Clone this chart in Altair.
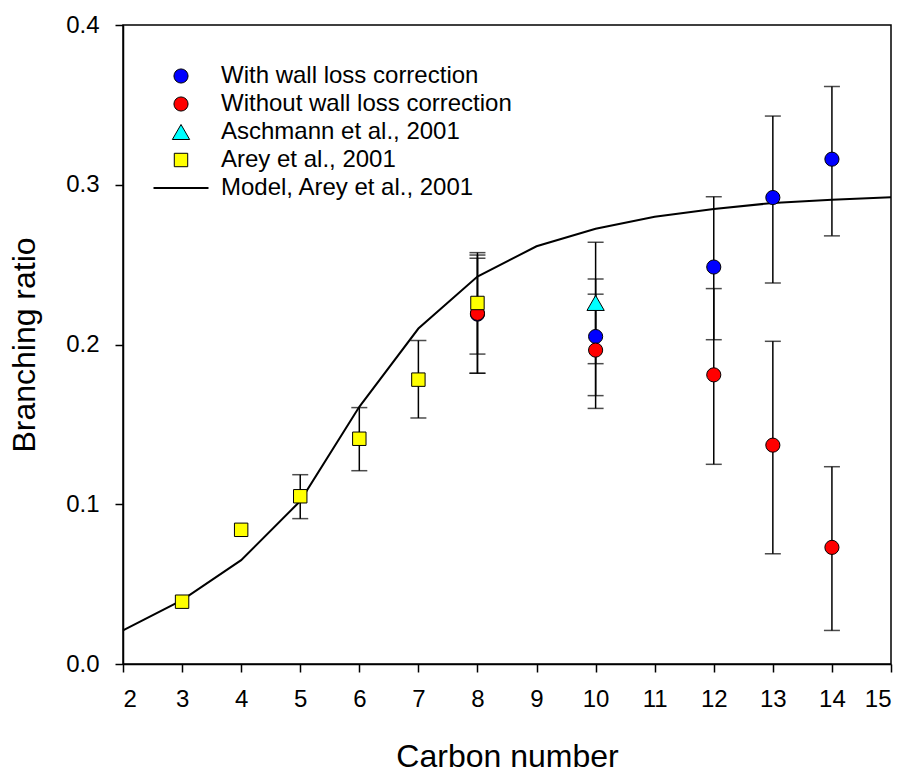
import altair as alt
import pandas as pd

# ---- data ----
series_names = ["With wall loss correction", "Without wall loss correction",
                "Aschmann et al., 2001", "Arey et al., 2001", "Model, Arey et al., 2001"]

with_x = [8, 10, 12, 13, 14]
with_y = [0.219, 0.205, 0.2485, 0.292, 0.316]
with_lo = [0.182, 0.168, 0.203, 0.2385, 0.268]
with_hi = [0.254, 0.241, 0.2925, 0.343, 0.3615]

without_x = [8, 10, 12, 13, 14]
without_y = [0.2195, 0.1965, 0.181, 0.137, 0.073]
without_lo = [0.182, 0.160, 0.125, 0.069, 0.021]
without_hi = [0.256, 0.2315, 0.235, 0.202, 0.1235]

asch_x = [10]
asch_y = [0.226]
asch_lo = [0.188]
asch_hi = [0.264]

arey_x = [3, 4, 5, 6, 7, 8]
arey_y = [0.039, 0.084, 0.105, 0.141, 0.178, 0.226]
arey_lo = [None, None, 0.091, 0.121, 0.154, 0.194]
arey_hi = [None, None, 0.1185, 0.1605, 0.2025, 0.2575]

model_x = [2, 3, 4, 5, 6, 7, 8, 9, 10, 11, 12, 13, 14, 15]
model_y = [0.021, 0.040, 0.065, 0.102, 0.161, 0.210, 0.2425, 0.2615,
           0.2725, 0.280, 0.2848, 0.2886, 0.2906, 0.2922]

x_ticks = list(range(2, 16))
y_ticks = [0.0, 0.1, 0.2, 0.3, 0.4]

fill_colors = ["#0000FF", "#FF0000", "#00FFFF", "#FFFF00", "#000000"]
shapes = ["circle", "circle", "triangle-up", "square", "M-4,0L4,0"]
sizes = [200, 200, 300, 180, 189]
stroke_widths = [1, 1, 1, 1, 2]

# ---- build tables ----
pts, errs = [], []
for name, xs, ys, los, his in [
    (series_names[0], with_x, with_y, with_lo, with_hi),
    (series_names[1], without_x, without_y, without_lo, without_hi),
    (series_names[2], asch_x, asch_y, asch_lo, asch_hi),
    (series_names[3], arey_x, arey_y, arey_lo, arey_hi),
]:
    for x, y, lo, hi in zip(xs, ys, los, his):
        pts.append({"series": name, "x": x, "y": y})
        if lo is not None:
            errs.append({"series": name, "x": x, "lo": lo, "hi": hi})

pts_df = pd.DataFrame(pts)
pts_df["order"] = range(len(pts_df))
err_df = pd.DataFrame(errs)
err_long = pd.concat([
    err_df[["x", "lo"]].rename(columns={"lo": "v"}),
    err_df[["x", "hi"]].rename(columns={"hi": "v"}),
])
model_df = pd.DataFrame({"x": model_x, "y": model_y})

xscale = alt.Scale(domain=[2, 15], nice=False, zero=False)
yscale = alt.Scale(domain=[0, 0.4], nice=False)

xaxis = alt.Axis(values=x_ticks, format="d", title="Carbon number")
yaxis = alt.Axis(values=y_ticks, format=".1f", title="Branching ratio")

model = alt.Chart(model_df).mark_line(color="black", strokeWidth=2).encode(
    x=alt.X("x:Q", scale=xscale, axis=xaxis),
    y=alt.Y("y:Q", scale=yscale, axis=yaxis),
)

bars = alt.Chart(err_df).mark_rule(color="black", strokeWidth=1.5).encode(
    x=alt.X("x:Q", scale=xscale),
    y=alt.Y("lo:Q", scale=yscale),
    y2="hi:Q",
)

caps = alt.Chart(err_long).mark_tick(color="black", orient="horizontal",
                                      size=16, thickness=1.5).encode(
    x=alt.X("x:Q", scale=xscale),
    y=alt.Y("v:Q", scale=yscale),
)

leg = alt.Legend(title=None, orient="none", legendX=46, legendY=39,
                 labelFontSize=24, labelFont="Liberation Sans", labelColor="black",
                 labelOffset=28, rowPadding=4, padding=0,
                 labelLimit=500)

dom = series_names
points = alt.Chart(pts_df).mark_point(filled=True, opacity=1).encode(
    x=alt.X("x:Q", scale=xscale),
    y=alt.Y("y:Q", scale=yscale),
    fill=alt.Fill("series:N", scale=alt.Scale(domain=dom, range=fill_colors), legend=leg),
    shape=alt.Shape("series:N", scale=alt.Scale(domain=dom, range=shapes), legend=leg),
    stroke=alt.Stroke("series:N", scale=alt.Scale(domain=dom, range=["#000000"] * 5), legend=leg),
    strokeWidth=alt.StrokeWidth("series:N", scale=alt.Scale(type="ordinal", domain=dom, range=stroke_widths), legend=leg),
    size=alt.Size("series:N", scale=alt.Scale(type="ordinal", domain=dom, range=sizes), legend=leg),
    order=alt.Order("order:Q"),
)

chart = alt.layer(model, bars, caps, points).properties(
    width=768, height=639,
    autosize=alt.AutoSizeParams(type="none"),
    padding={"left": 123, "top": 25, "right": 18, "bottom": 108},
).configure_view(
    stroke="black", strokeWidth=1.5,
).configure_axis(
    grid=False, domainColor="black", domainWidth=1.5,
    tickColor="black", tickWidth=1.5, tickSize=8,
    labelFont="Liberation Sans", labelFontSize=24, labelColor="black",
    titleFont="Liberation Sans", titleFontSize=32, titleFontWeight="normal",
    titleColor="black",
).configure_axisX(
    labelPadding=15, titlePadding=30,
).configure_axisY(
    labelPadding=16, titlePadding=24,
)

chart.save("out.html", embed_options={"renderer": "svg", "actions": False})
